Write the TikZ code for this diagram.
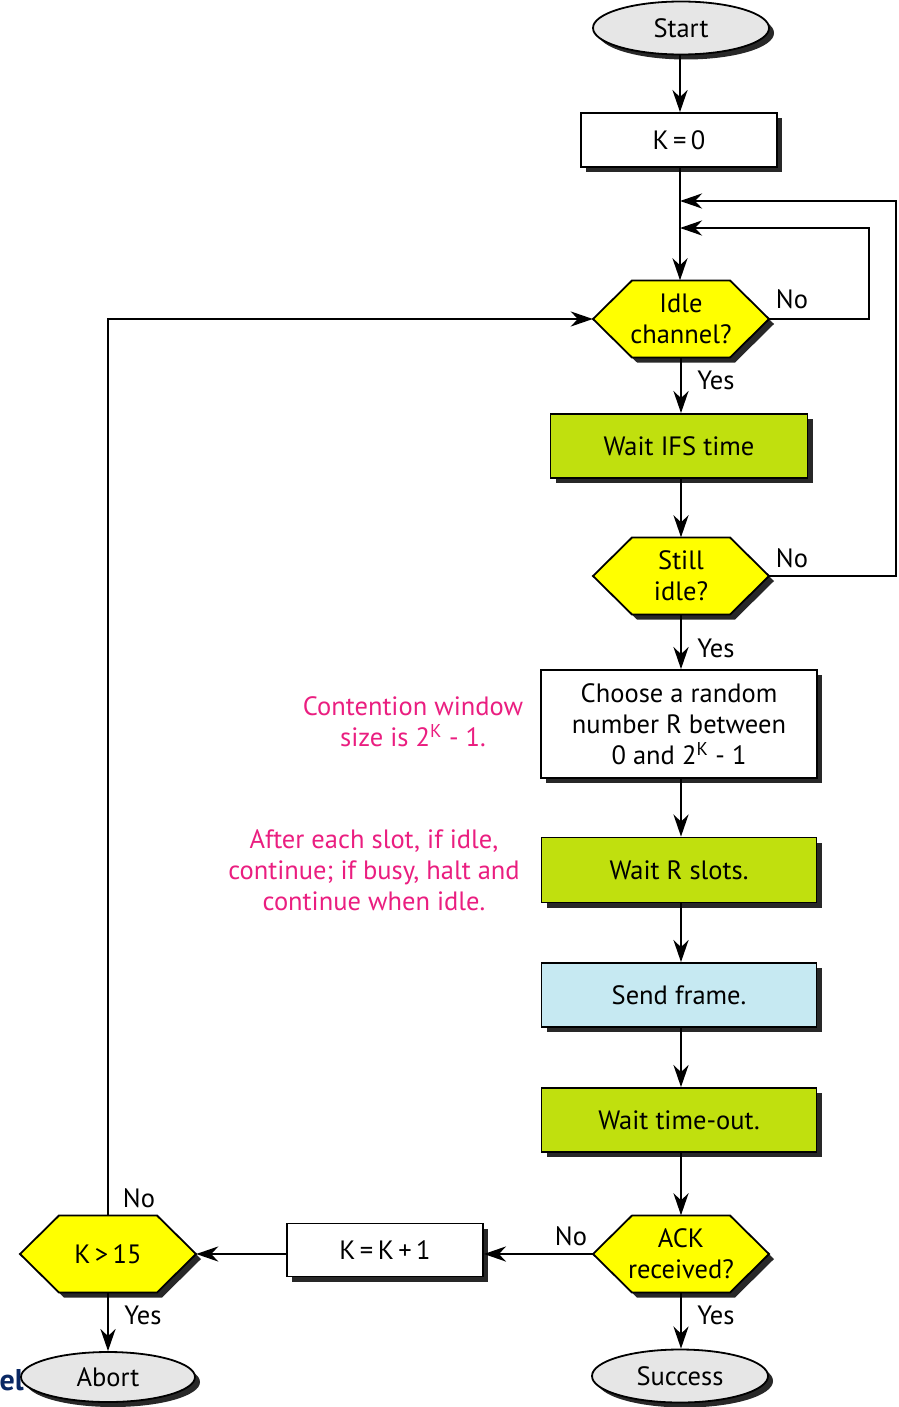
\documentclass[tikz,border=0pt]{standalone}
\usepackage{fontspec}
\setmainfont{PT Sans}
\usetikzlibrary{shapes.geometric,arrows.meta,shadows}

\definecolor{decyellow}{RGB}{255,255,0}
\definecolor{stepgreen}{RGB}{192,224,14}
\definecolor{sendblue}{RGB}{198,233,242}
\definecolor{termgray}{RGB}{230,230,230}
\definecolor{notepink}{RGB}{234,30,128}
\definecolor{shadowgray}{RGB}{40,40,40}
\definecolor{tagnavy}{RGB}{10,40,100}

\newcommand{\flowfont}{\fontsize{26.5}{31}\selectfont}

\begin{document}
\begin{tikzpicture}[x=1pt,y=-1pt,
  shade drop/.style={drop shadow={shadow xshift=5pt,shadow yshift=-5pt,fill=shadowgray,opacity=1}},
  box/.style={rectangle,draw,line width=1.8pt,shade drop,inner sep=0pt,align=center,font=\flowfont},
  term/.style={ellipse,draw,line width=1.8pt,fill=termgray,shade drop,inner sep=0pt,
               minimum width=176pt,minimum height=53pt,font=\flowfont},
  hexa/.style={draw,line width=1.8pt,fill=decyellow,shade drop,line join=miter},
  hexlabel/.style={minimum width=176pt,minimum height=77pt,inner sep=0pt,align=center,font=\flowfont},
  flow/.style={line width=2.8pt,-{Stealth[length=22pt,width=15pt,inset=7pt]}},
  tag/.style={font=\flowfont,inner sep=0pt},
  note/.style={text=notepink,align=center,font=\flowfont,inner sep=0pt},
  hexagon/.pic={\path[hexa] (-88,0) -- (-49,-38.5) -- (49,-38.5) -- (88,0) -- (49,38.5) -- (-49,38.5) -- cycle;}
]
\useasboundingbox (0,0) rectangle (898,1407);

% stray caption fragment at the lower left edge
\node[anchor=base east,text=tagnavy,font=\fontsize{30}{34}\selectfont\bfseries,inner sep=0pt] (edge) at (24,1390) {el};

% terminals
\node[term] (start) at (681,28) {Start};
\node[term] (success) at (680,1376) {Success};
\node[term,minimum width=174pt,minimum height=50pt] (abort) at (108,1377) {Abort};

% process boxes
\node[box,fill=white,minimum width=196pt,minimum height=54pt] (k0) at (679,140) {K\,=\,0};
\node[box,fill=stepgreen,minimum width=257pt,minimum height=64pt] (ifs) at (679,446) {Wait IFS time};
\node[box,fill=white,minimum width=276pt,minimum height=108pt] (choose) at (679,724)
  {Choose a random\\number R between\\0 and 2\textsuperscript{K} - 1};
\node[box,fill=stepgreen,minimum width=275pt,minimum height=65pt] (slots) at (679,870) {Wait R slots.};
\node[box,fill=sendblue,minimum width=275pt,minimum height=64pt] (send) at (679,995) {Send frame.};
\node[box,fill=stepgreen,minimum width=275pt,minimum height=64pt] (tout) at (679,1120) {Wait time-out.};
\node[box,fill=white,minimum width=196pt,minimum height=53pt] (kinc) at (385,1250) {K\,=\,K\,+\,1};

% decisions
\pic at (681,319) {hexagon};
\node[hexlabel] (idle) at (681,319) {Idle\\channel?};
\pic at (681,576) {hexagon};
\node[hexlabel] (still) at (681,576) {Still\\idle?};
\pic at (681,1254) {hexagon};
\node[hexlabel] (ack) at (681,1254) {ACK\\received?};
\pic at (108,1254) {hexagon};
\node[hexlabel] (kmax) at (108,1254) {K\,>\,15};

% side notes
\node[note] (cw) at (413,722) {Contention window\\size is 2\textsuperscript{K} - 1.};
\node[note] (slotnote) at (374,870) {After each slot, if idle,\\continue; if busy, halt and\\continue when idle.};

% junctions on the main column
\coordinate (j1) at (680,201);
\coordinate (j2) at (680,228);

% connectors
\draw[flow] (start.south -| 680,0) -- (k0.north -| 680,0);
\draw[line width=2.8pt] (k0.south -| 680,0) -- (j1);
\draw[flow] (j1) -- (idle.north -| 680,0);
\draw[flow] (idle.east) -- (869,319) -- (869,228) -- (j2);
\draw[flow] (still.east) -- (896,576) -- (896,201) -- (j1);
\draw[flow] (idle.south) -- (ifs.north -| idle.south);
\draw[flow] (ifs.south -| idle.south) -- (still.north);
\draw[flow] (still.south) -- (choose.north -| still.south);
\draw[flow] (choose.south -| still.south) -- (slots.north -| still.south);
\draw[flow] (slots.south -| still.south) -- (send.north -| still.south);
\draw[flow] (send.south -| still.south) -- (tout.north -| still.south);
\draw[flow] (tout.south -| still.south) -- (ack.north);
\draw[flow] (ack.south) -- (success.north -| ack.south);
\draw[flow] (ack.west) -- (ack.west -| kinc.east);
\draw[flow] (kinc.west |- ack.west) -- (kmax.east);
\draw[flow] (kmax.south) -- (abort.north -| kmax.south);
\draw[flow] (kmax.north) -- (108,319) -- (idle.west);

% branch labels
\node[tag] (idleno) at (792,299) {No};
\node[tag] (idleyes) at (716,380) {Yes};
\node[tag] (stillno) at (792,558) {No};
\node[tag] (stillyes) at (716,648) {Yes};
\node[tag] (ackno) at (571,1236) {No};
\node[tag] (ackyes) at (716,1315) {Yes};
\node[tag] (kmaxno) at (139,1198) {No};
\node[tag] (kmaxyes) at (143,1315) {Yes};
\end{tikzpicture}
\end{document}
